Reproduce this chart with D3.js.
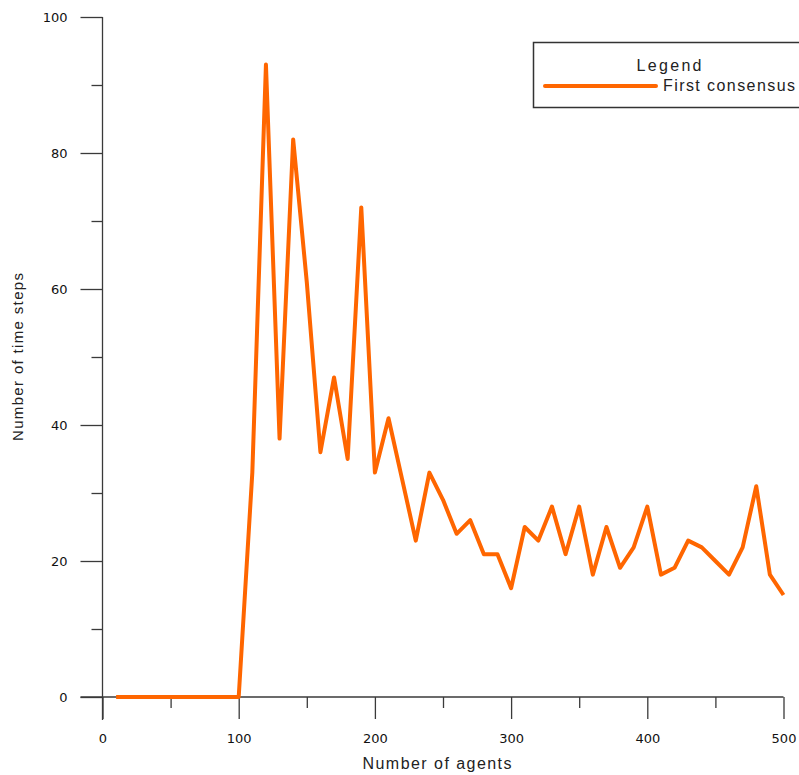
<!DOCTYPE html>
<html>
<head>
<meta charset="utf-8">
<script src="https://cdn.jsdelivr.net/npm/d3@7"></script>
<style>
  html, body { margin: 0; padding: 0; background: #fff; }
  svg { display: block; }
</style>
</head>
<body>
<svg id="chart" width="799" height="775"></svg>
<script>
// ---- data ----
const agents = [10,20,30,40,50,60,70,80,90,100,110,120,130,140,150,160,170,180,190,200,
                210,220,230,240,250,260,270,280,290,300,310,320,330,340,350,360,370,380,390,400,
                410,420,430,440,450,460,470,480,490,500];
const firstConsensus = [0,0,0,0,0,0,0,0,0,0,33,93,38,82,61,36,47,35,72,33,
                        41,32,23,33,29,24,26,21,21,16,25,23,28,21,28,18,25,19,22,28,
                        18,19,23,22,20,18,22,31,18,15];
const xMajorTicks = [0,100,200,300,400,500];
const xMinorTicks = [50,150,250,350,450];
const yMajorTicks = [0,20,40,60,80,100];
const yMinorTicks = [10,30,50,70,90];
const seriesName = "First consensus";
const legendTitle = "Legend";
const xTitle = "Number of agents";
const yTitle = "Number of time steps";

// ---- drawing ----
const svg = d3.select("#chart");
const x = d3.scaleLinear().domain([0, 500]).range([102.5, 783.5]);
const y = d3.scaleLinear().domain([0, 100]).range([697, 17]);
const axisColor = "#3a3a3a";
const majorLen = 22, minorLen = 11;

// Y axis
const yAxis = svg.append("g").attr("transform", `translate(${x(0)},0)`);
yAxis.append("g")
  .call(d3.axisLeft(y).tickValues(yMajorTicks).tickSize(majorLen).tickPadding(13).tickFormat(d3.format("d")))
  .call(g => g.select(".domain").remove())
  .call(g => g.selectAll("line").attr("stroke", axisColor).attr("stroke-width", 1.3))
  .call(g => g.selectAll("text").attr("font-family", "DejaVu Sans").attr("font-size", 13).attr("fill", "#111"));
yAxis.append("g")
  .call(d3.axisLeft(y).tickValues(yMinorTicks).tickSize(minorLen).tickFormat(""))
  .call(g => g.select(".domain").remove())
  .call(g => g.selectAll("line").attr("stroke", axisColor).attr("stroke-width", 1.3));
yAxis.append("line")
  .attr("x1", 0).attr("x2", 0).attr("y1", y(100)).attr("y2", y(0) + 23)
  .attr("stroke", axisColor).attr("stroke-width", 1.3);

// X axis
const xAxis = svg.append("g").attr("transform", `translate(0,${y(0)})`);
xAxis.append("g")
  .call(d3.axisBottom(x).tickValues(xMajorTicks).tickSize(majorLen).tickPadding(15).tickFormat(d3.format("d")))
  .call(g => g.select(".domain").remove())
  .call(g => g.selectAll("line").attr("stroke", axisColor).attr("stroke-width", 1.3))
  .call(g => g.selectAll("text").attr("font-family", "DejaVu Sans").attr("font-size", 13).attr("fill", "#111"));
xAxis.append("g")
  .call(d3.axisBottom(x).tickValues(xMinorTicks).tickSize(minorLen).tickFormat(""))
  .call(g => g.select(".domain").remove())
  .call(g => g.selectAll("line").attr("stroke", axisColor).attr("stroke-width", 1.3));
xAxis.append("line")
  .attr("x1", x(0) - 22).attr("x2", x(500)).attr("y1", 0).attr("y2", 0)
  .attr("stroke", axisColor).attr("stroke-width", 1.3);

// Axis titles
svg.append("text")
  .attr("x", 437).attr("y", 769)
  .attr("text-anchor", "middle")
  .attr("font-family", "Liberation Sans, Arial, sans-serif").attr("font-size", 16)
  .attr("fill", "#222")
  .attr("textLength", 149).attr("lengthAdjust", "spacing")
  .text(xTitle);
svg.append("text")
  .attr("transform", "translate(23,357) rotate(-90)")
  .attr("text-anchor", "middle")
  .attr("font-family", "Liberation Sans, Arial, sans-serif").attr("font-size", 15)
  .attr("fill", "#222")
  .attr("textLength", 168).attr("lengthAdjust", "spacing")
  .text(yTitle);

// Series line
const data = agents.map((a, i) => ({ a, v: firstConsensus[i] }));
svg.append("path")
  .datum(data)
  .attr("fill", "none")
  .attr("stroke", "#ff6600")
  .attr("stroke-width", 4)
  .attr("stroke-linejoin", "round")
  .attr("d", d3.line().x(d => x(d.a)).y(d => y(d.v)));

// Legend
const lg = svg.append("g");
lg.append("rect")
  .attr("x", 533.5).attr("y", 42.5).attr("width", 300).attr("height", 65)
  .attr("fill", "#fff").attr("stroke", "#333").attr("stroke-width", 1.5);
lg.append("text")
  .attr("x", 669).attr("y", 71)
  .attr("text-anchor", "middle")
  .attr("font-family", "Liberation Sans, Arial, sans-serif").attr("font-size", 16)
  .attr("fill", "#222")
  .attr("textLength", 65).attr("lengthAdjust", "spacing")
  .text(legendTitle);
lg.append("line")
  .attr("x1", 545).attr("x2", 656).attr("y1", 86).attr("y2", 86)
  .attr("stroke", "#ff6600").attr("stroke-width", 4).attr("stroke-linecap", "round");
lg.append("text")
  .attr("x", 663).attr("y", 91)
  .attr("font-family", "Liberation Sans, Arial, sans-serif").attr("font-size", 16)
  .attr("fill", "#222")
  .attr("textLength", 132).attr("lengthAdjust", "spacing")
  .text(seriesName);
</script>
</body>
</html>
